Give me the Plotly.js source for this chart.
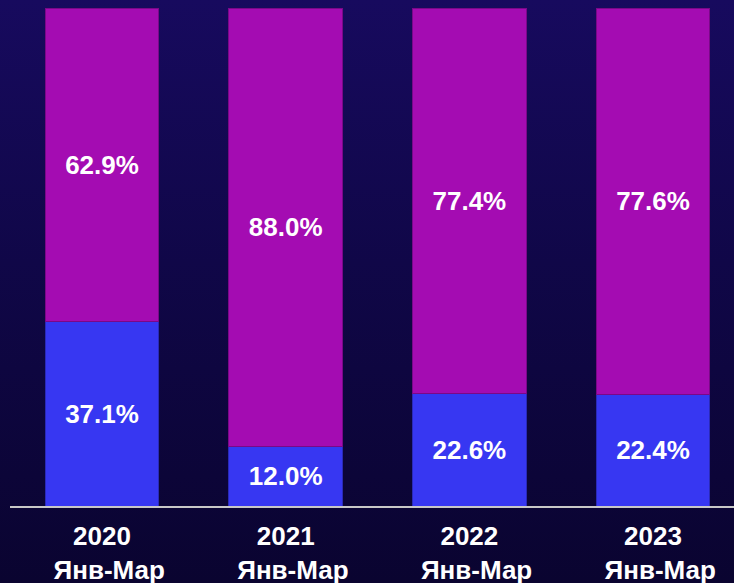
<!DOCTYPE html>
<html>
<head>
<meta charset="utf-8">
<script src="https://cdn.plot.ly/plotly-3.0.1.min.js"></script>
<style>
  html, body { margin: 0; padding: 0; }
  body { width: 734px; height: 583px; overflow: hidden;
         background: linear-gradient(to bottom, #170a5e 0%, #100748 45%, #0a0430 100%); }
  #chart { width: 734px; height: 583px; }
</style>
</head>
<body>
<div id="chart"></div>
<script>
// period labels and shares (percent)
const periods = ["2020", "2021", "2022", "2023"];
const periodSub = "\u00a0\u00a0Янв-Мар";
const shareBlue = [37.1, 12.0, 22.6, 22.4];
const shareMagenta = [62.9, 88.0, 77.4, 77.6];

const tickText = periods.map(p => "<b>" + p + "<br>" + periodSub + "</b>");
const fmt = v => "<b>" + v.toFixed(1) + "%</b>";

const blueTrace = {
    type: 'bar',
    x: periods,
    y: shareBlue,
    text: shareBlue.map(fmt),
    textposition: 'inside',
    insidetextanchor: 'middle',
    constraintext: 'none',
    textfont: { family: 'Liberation Sans, Arial', size: 26, color: '#ffffff' },
    marker: { color: '#3737f2', line: { color: '#2a2ab8', width: 1 } },
    width: 0.62,
    hoverinfo: 'skip'
};

const magentaTrace = {
    type: 'bar',
    x: periods,
    y: shareMagenta,
    text: shareMagenta.map(fmt),
    textposition: 'inside',
    insidetextanchor: 'middle',
    constraintext: 'none',
    textfont: { family: 'Liberation Sans, Arial', size: 26, color: '#ffffff' },
    marker: { color: '#a40cb2', line: { color: '#7a0888', width: 1 } },
    width: 0.62,
    hoverinfo: 'skip'
};

const layout = {
    width: 734,
    height: 583,
    barmode: 'stack',
    showlegend: false,
    paper_bgcolor: 'rgba(0,0,0,0)',
    plot_bgcolor: 'rgba(0,0,0,0)',
    margin: { l: 10, r: 0, t: 8, b: 77 },
    xaxis: {
        type: 'category',
        range: [-0.501, 3.441],
        tickvals: periods,
        ticktext: tickText,
        tickfont: { family: 'Liberation Sans, Arial', size: 26, color: '#ffffff' },
        ticklabelstandoff: 6,
        showline: true,
        linecolor: '#c8c8c8',
        linewidth: 2,
        showgrid: false,
        zeroline: false,
        ticks: '',
        fixedrange: true
    },
    yaxis: {
        range: [0, 100],
        visible: false,
        showgrid: false,
        zeroline: false,
        fixedrange: true
    }
};

Plotly.newPlot('chart', [blueTrace, magentaTrace], layout, { displayModeBar: false, staticPlot: true });
</script>
</body>
</html>
